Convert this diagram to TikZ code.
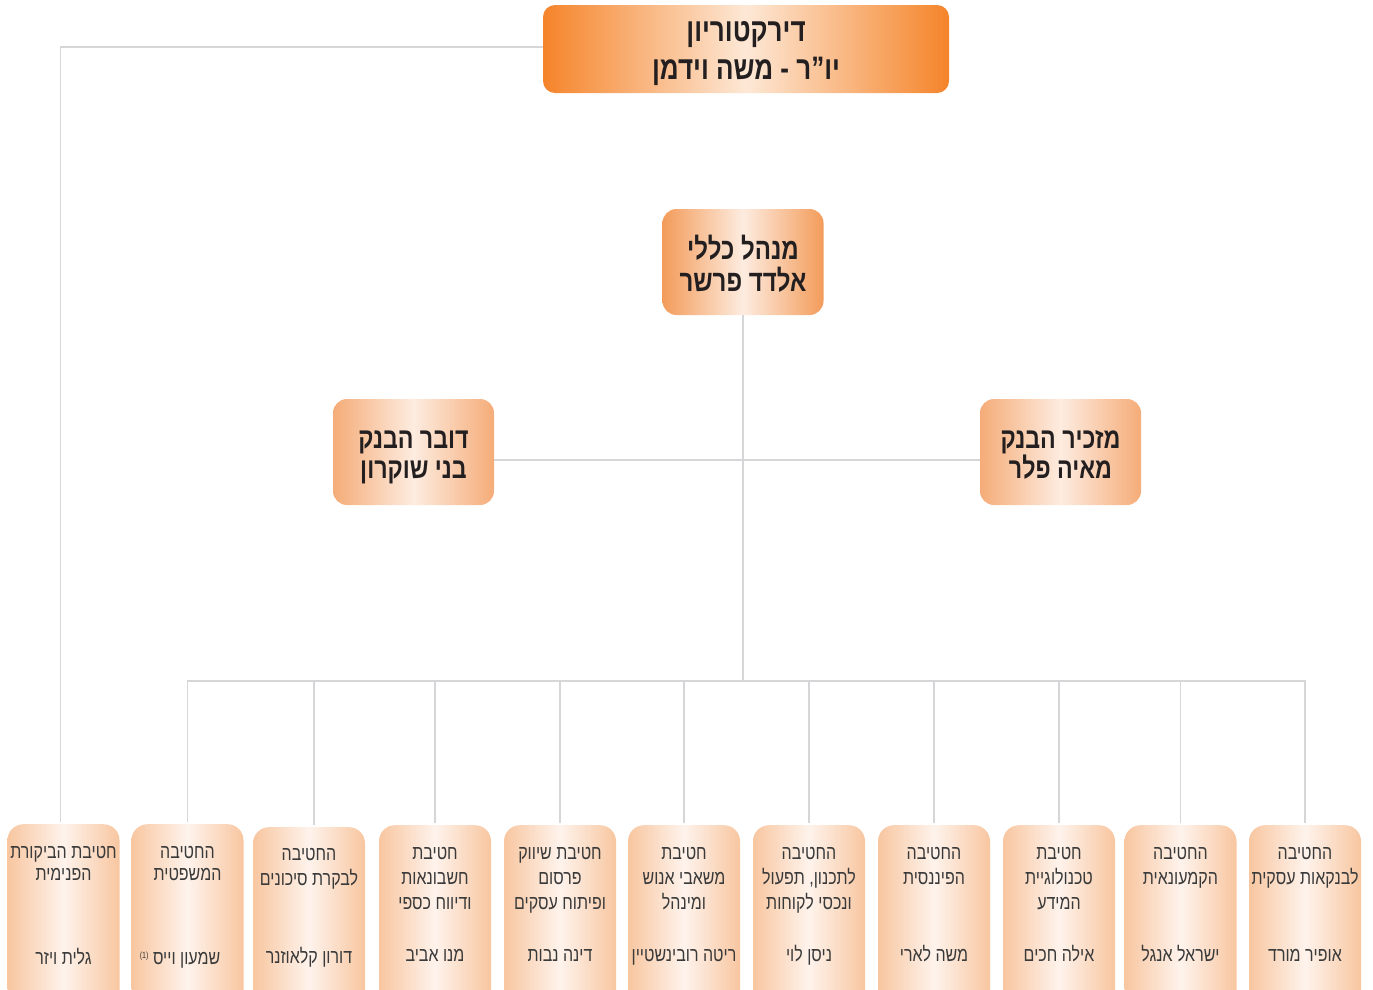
\documentclass[tikz,border=0pt]{standalone}
\usepackage{fontspec}
\TeXXeTstate=1
\newfontfamily\hebfont[Script=Hebrew,FakeStretch=0.8]{Liberation Sans}
\newcommand\heb[1]{\beginR\rule[-0.2em]{0pt}{0.75em}#1\endR}
\newcommand\hebA[2][1.3em]{\beginR\rule[-0.2em]{0pt}{#1}#2\endR}
\definecolor{topEdge}{RGB}{245,132,42}
\definecolor{topMid}{RGB}{253,232,214}
\definecolor{gmEdge}{RGB}{243,155,90}
\definecolor{sideEdge}{RGB}{245,172,120}
\definecolor{midMid}{RGB}{253,236,224}
\definecolor{botEdge}{RGB}{248,198,160}
\definecolor{botMid}{RGB}{254,243,236}
\definecolor{lineGray}{RGB}{214,214,216}
\definecolor{darkText}{RGB}{35,31,32}
\definecolor{bodyText}{RGB}{58,58,58}
\begin{document}
\begin{tikzpicture}[x=1pt,y=-1pt,
  conn/.style={draw=lineGray, line width=1.8pt},
  box/.style={rectangle, draw=none, inner sep=0pt, align=center},
  topbox/.style={box, rounded corners=12pt, left color=topEdge, right color=topEdge, middle color=topMid,
    minimum width=406pt, minimum height=88pt, text=darkText, font=\hebfont\bfseries\fontsize{32.5}{38}\selectfont},
  gmbox/.style={box, rounded corners=14pt, left color=gmEdge, right color=gmEdge, middle color=midMid,
    minimum width=161pt, minimum height=106pt, text=darkText, font=\hebfont\bfseries\fontsize{30}{32}\selectfont},
  sidebox/.style={box, rounded corners=14pt, left color=sideEdge, right color=sideEdge, middle color=midMid,
    minimum width=161pt, minimum height=106pt, text=darkText, font=\hebfont\bfseries\fontsize{29}{30}\selectfont},
  botbox/.style={box, rounded corners=16pt, left color=botEdge, right color=botEdge, middle color=botMid,
    minimum width=112pt, minimum height=190pt},
  bottitle/.style={inner sep=0pt, align=center, anchor=north, text=bodyText, font=\hebfont\fontsize{20}{25}\selectfont},
  bottitlex/.style={bottitle, font=\hebfont\fontsize{20}{22}\selectfont},
  botname/.style={inner sep=0pt, anchor=base, text=bodyText, font=\hebfont\fontsize{20}{25}\selectfont}
]
\useasboundingbox (0,0) rectangle (1373,989);
\clip (0,0) rectangle (1373,989);

% top
\node[topbox] (dir) at (746,49) {\hebA[1.12em]{דירקטוריון}\\\heb{יו”ר - משה וידמן}};
\node[gmbox] (gm) at (743,262) {\hebA{מנהל כללי}\\\heb{אלדד פרשר}};
\node[sidebox] (spk) at (413.5,452) {\hebA[1.16em]{דובר הבנק}\\\heb{בני שוקרון}};
\node[sidebox] (sec) at (1060.5,452) {\hebA[1.16em]{מזכיר הבנק}\\\heb{מאיה פלר}};

% bottom boxes
\foreach \i/\x/\t in {1/63.5/824, 2/187.5/824, 3/309/827, 4/435/825, 5/560/825, 6/684/825,
                      7/809/825, 8/934/825, 9/1059/825, 10/1180.5/825, 11/1305/825}
  \node[botbox, anchor=north] (b\i) at (\x,\t) {};

% titles
\node[bottitlex] (t1) at (63.5,846) {\heb{חטיבת הביקורת}\\\heb{הפנימית}};
\node[bottitlex] (t2) at (187.5,846) {\heb{החטיבה}\\\heb{המשפטית}};
\node[bottitle] (t3) at (309,848) {\heb{החטיבה}\\\heb{לבקרת סיכונים}};
\node[bottitle] (t4) at (435,847) {\heb{חטיבת}\\\heb{חשבונאות}\\\heb{ודיווח כספי}};
\node[bottitle] (t5) at (560,847) {\heb{חטיבת שיווק}\\\heb{פרסום}\\\heb{ופיתוח עסקים}};
\node[bottitle] (t6) at (684,847) {\heb{חטיבת}\\\heb{משאבי אנוש}\\\heb{ומינהל}};
\node[bottitle] (t7) at (809,847) {\heb{החטיבה}\\\heb{לתכנון, תפעול}\\\heb{ונכסי לקוחות}};
\node[bottitle] (t8) at (934,847) {\heb{החטיבה}\\\heb{הפיננסית}};
\node[bottitle] (t9) at (1059,847) {\heb{חטיבת}\\\heb{טכנולוגיית}\\\heb{המידע}};
\node[bottitle] (t10) at (1180.5,847) {\heb{החטיבה}\\\heb{הקמעונאית}};
\node[bottitle] (t11) at (1305,847) {\heb{החטיבה}\\\heb{לבנקאות עסקית}};

% names
\node[botname] (n1) at (63.5,964) {\beginR גלית ויזר\endR};
\node[botname] (n2) at (180,964) {\beginR שמעון וייס \beginL\raisebox{6pt}{\fontsize{9}{9}\selectfont(1)}\endL\endR};
\node[botname] (n3) at (309,963) {\beginR דורון קלאוזנר\endR};
\node[botname] (n4) at (435,961) {\beginR מנו אביב\endR};
\node[botname] (n5) at (560,961) {\beginR דינה נבות\endR};
\node[botname] (n6) at (684,961) {\beginR ריטה רובינשטיין\endR};
\node[botname] (n7) at (809,961) {\beginR ניסן לוי\endR};
\node[botname] (n8) at (934,961) {\beginR משה לארי\endR};
\node[botname] (n9) at (1059,961) {\beginR אילה חכים\endR};
\node[botname] (n10) at (1180.5,961) {\beginR ישראל אנגל\endR};
\node[botname] (n11) at (1305,961) {\beginR אופיר מורד\endR};

% connectors
\coordinate (bus) at (742,681);
\coordinate (hline) at (742,460);
\draw[conn] (dir.west |- 0,47) -| ([xshift=-3pt,yshift=2pt]b1.north);
\draw[conn] (gm.south) -- (gm.south |- bus);
\draw[conn] (spk.east |- hline) -- (sec.west |- hline);
\draw[conn] ([yshift=2pt]b2.north) -- (b2.north |- bus) -- (b11.north |- bus) -- ([yshift=2pt]b11.north);
\draw[conn] ([xshift=5pt,yshift=2pt]b3.north) -- ([xshift=5pt]b3.north |- bus);
\foreach \i in {4,...,10}
  \draw[conn] ([yshift=2pt]b\i.north) -- (b\i.north |- bus);
\end{tikzpicture}
\end{document}
